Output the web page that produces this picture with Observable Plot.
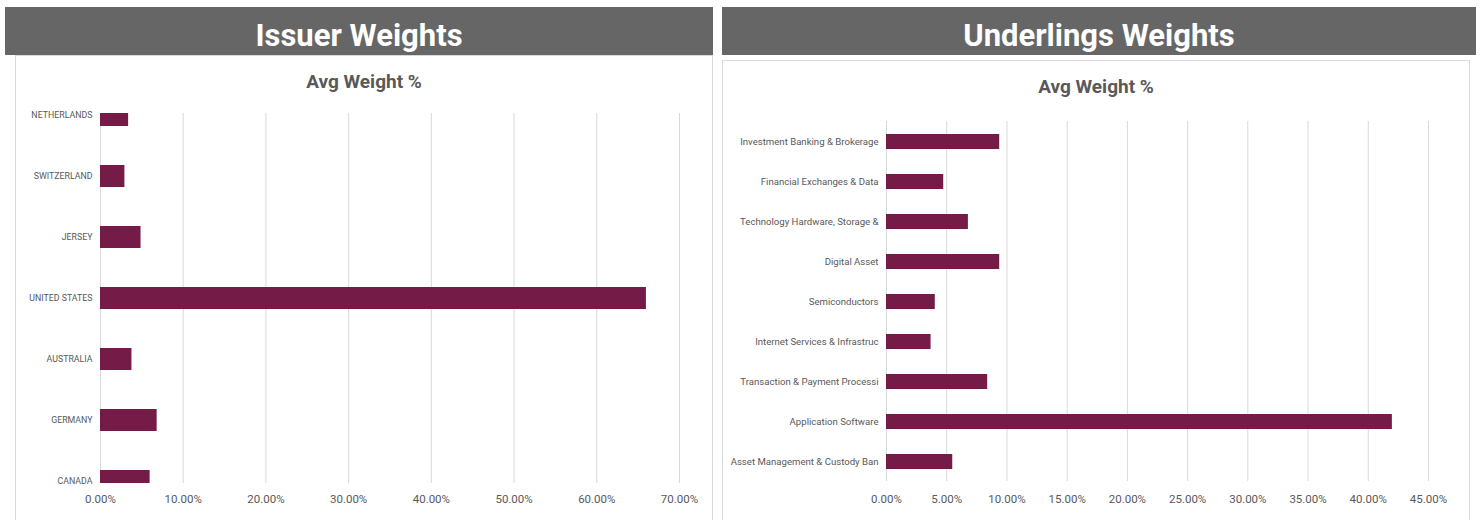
<!DOCTYPE html>
<html>
<head>
<meta charset="utf-8">
<script src="https://cdn.jsdelivr.net/npm/d3@7"></script>
<script src="https://cdn.jsdelivr.net/npm/@observablehq/plot@0.6"></script>
<style>
  html, body { margin: 0; padding: 0; background: #fff; width: 1481px; height: 520px; overflow: hidden; font-family: Roboto, "Noto Sans", sans-serif; }
  .hdr { position: absolute; background: #666666; color: #fff; font-weight: 700; font-size: 31px; text-align: center; line-height: 48px; height: 48px; box-sizing: border-box; padding-top: 5px; overflow: hidden; }
  .card { position: absolute; background: #fff; border: 1px solid #d9d9d9; box-sizing: border-box; }
  .sub { position: absolute; color: #595959; font-weight: 700; font-size: 19px; text-align: center; }
  .chart { position: absolute; top: 0; }
  .chart svg { background: transparent !important; overflow: visible; }
</style>
</head>
<body>
<div class="hdr" style="left:5px; top:7px; width:708px;">Issuer Weights</div>
<div class="hdr" style="left:722px; top:7px; width:754px;">Underlings Weights</div>
<div class="card" style="left:15px; top:55px; width:698px; height:480px;"></div>
<div class="card" style="left:722px; top:60px; width:748px; height:480px;"></div>
<div class="sub" style="left:15px; top:70px; width:698px;">Avg Weight %</div>
<div class="sub" style="left:722px; top:75px; width:748px;">Avg Weight %</div>
<div id="left" class="chart" style="left:0px;"></div>
<div id="right" class="chart" style="left:722px;"></div>
<script>
// Issuer Weights (percent)
const issuerCountries = ["NETHERLANDS", "SWITZERLAND", "JERSEY", "UNITED STATES", "AUSTRALIA", "GERMANY", "CANADA"];
const issuerWeights = [3.4, 2.95, 4.9, 66.0, 3.8, 6.85, 6.0];
const issuerTicks = [0, 10, 20, 30, 40, 50, 60, 70];

// Underlings Weights (percent)
const underlyingSectors = [
  "Investment Banking & Brokerage",
  "Financial Exchanges & Data",
  "Technology Hardware, Storage &",
  "Digital Asset",
  "Semiconductors",
  "Internet Services & Infrastruc",
  "Transaction & Payment Processi",
  "Application Software",
  "Asset Management & Custody Ban"
];
const underlyingWeights = [9.4, 4.75, 6.8, 9.4, 4.05, 3.7, 8.4, 42.0, 5.5];
const underlyingTicks = [0, 5, 10, 15, 20, 25, 30, 35, 40, 45];

const barColor = "#741b47";
const gridColor = "#d9d9d9";
const textColor = "#595959";
const pct = d => d.toFixed(2) + "%";

const issuerData = issuerCountries.map((c, i) => ({name: c, value: issuerWeights[i]}));
const underlyingData = underlyingSectors.map((c, i) => ({name: c, value: underlyingWeights[i]}));

const left = Plot.plot({
  width: 718, height: 520,
  marginLeft: 100, marginRight: 39, marginTop: 113, marginBottom: 37,
  style: {background: "transparent", color: textColor, fontFamily: "Roboto, sans-serif"},
  x: {domain: [0, 70]},
  y: {domain: issuerCountries, range: [83.85, 511.65], paddingInner: 0.64, paddingOuter: 0.32, align: 0.5},
  marks: [
    Plot.gridX(issuerTicks, {stroke: gridColor, strokeOpacity: 1}),
    Plot.barX(issuerData, {y: "name", x: "value", fill: barColor, clip: true}),
    Plot.axisX(issuerTicks, {tickFormat: pct, tickSize: 0, tickPadding: 11, fontSize: 11.5, fill: textColor, label: null}),
    Plot.axisY({tickSize: 0, tickPadding: 8, fontSize: 8.8, fill: textColor, label: null, style: "letter-spacing:-0.3px"})
  ]
});
document.getElementById("left").appendChild(left);

const right = Plot.plot({
  width: 750, height: 520,
  marginLeft: 164, marginRight: 44, marginTop: 121, marginBottom: 39,
  style: {background: "transparent", color: textColor, fontFamily: "Roboto, sans-serif"},
  x: {domain: [0, 45]},
  y: {domain: underlyingSectors, paddingInner: 0.625, paddingOuter: 0.3125},
  marks: [
    Plot.gridX(underlyingTicks, {stroke: gridColor, strokeOpacity: 1}),
    Plot.barX(underlyingData, {y: "name", x: "value", fill: barColor}),
    Plot.axisX(underlyingTicks, {tickFormat: pct, tickSize: 0, tickPadding: 13, fontSize: 11.5, fill: textColor, label: null}),
    Plot.axisY({tickSize: 0, tickPadding: 8, fontSize: 9.6, fill: textColor, label: null, style: "letter-spacing:-0.25px"})
  ]
});
document.getElementById("right").appendChild(right);
</script>
</body>
</html>
